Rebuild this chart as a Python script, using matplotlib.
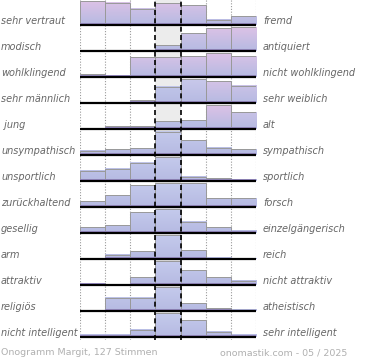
import matplotlib
matplotlib.use('Agg')
import matplotlib.pyplot as plt
import numpy as np
from matplotlib.patches import Rectangle
from matplotlib.colors import to_rgb

# Gegensatzpaare (links / rechts)
left_labels = ['sehr vertraut', 'modisch', 'wohlklingend', 'sehr männlich', ' jung',
               'unsympathisch', 'unsportlich', 'zurückhaltend', 'gesellig', 'arm',
               'attraktiv', 'religiös', 'nicht intelligent']
right_labels = ['fremd', 'antiquiert', 'nicht wohlklingend', 'sehr weiblich', 'alt',
                'sympathisch', 'sportlich', 'forsch', 'einzelgängerisch', 'reich',
                'nicht attraktiv', 'atheistisch', 'sehr intelligent']

# Stimmen je Stufe (7 Stufen, relativ zum Maximum in %)
votes = [
    [100, 92, 67, 90, 82, 21, 36],
    [4, 4, 4, 25, 74, 95, 100],
    [12, 8, 82, 82, 86, 100, 86],
    [0, 0, 12, 67, 100, 90, 71],
    [0, 12, 12, 33, 37, 100, 70],
    [18, 24, 28, 97, 62, 30, 25],
    [42, 51, 76, 100, 17, 12, 8],
    [24, 48, 90, 100, 100, 37, 37],
    [24, 32, 87, 100, 46, 24, 10],
    [0, 18, 32, 100, 37, 6, 4],
    [7, 0, 32, 100, 62, 32, 18],
    [0, 55, 55, 100, 32, 11, 6],
    [10, 10, 30, 100, 70, 21, 10],
]
# Anteil rosa Faerbung je Balken (0 = blau, 1 = rosa)
pink = [
    [1, 1, 0.8, 1, 0.9, 0.6, 0.6],
    [0, 0, 0, 0.2, 0.6, 1, 1],
    [0, 0, 0.9, 0.9, 0.9, 1, 0.9],
    [0, 0, 0, 0, 0.2, 0.8, 0.6],
    [0, 0, 0, 0, 0, 1, 0.5],
] + [[0] * 7 for _ in range(8)]

footer_left = 'Onogramm Margit, 127 Stimmen'
footer_right = 'onomastik.com - 05 / 2025'

W, H = 370, 360
fig = plt.figure(figsize=(W / 100, H / 100), dpi=100)
ax = fig.add_axes([80 / W, 20 / H, 176 / W, 340 / H])
ax.set_xlim(0, 7)
ax.set_ylim(0, 340)
ax.axis('off')

c_pink = np.array(to_rgb('#dcc2e6'))
c_blue = np.array(to_rgb('#c4caec'))
c_low = np.array(to_rgb('#b6bae2'))
row_h = 26
bar_max = 24

# gepunktete Linien hinten
for x in [0, 1, 2, 5, 6, 7]:
    ax.plot([x, x], [0, 340], color='#999999', lw=0.8, ls=(0, (1, 1.5)), zorder=1)

for i in range(len(votes)):
    base = 340 - (25 + row_h * i)
    # grauer Hintergrund in der Mitte
    ax.add_patch(Rectangle((3, base), 1, 25, color='#ececec', lw=0, zorder=1.5))
    for j, v in enumerate(votes[i]):
        h = v / 100 * bar_max
        if h <= 0:
            continue
        top = c_blue * (1 - pink[i][j]) + c_pink * pink[i][j]
        f = np.linspace(0, h / bar_max, 40)[:, None]
        img = (c_low * (1 - f) + top * f)[:, None, :]
        ax.imshow(img, extent=[j, j + 1, base, base + h], origin='lower',
                  aspect='auto', interpolation='bilinear', zorder=2)
        ax.add_patch(Rectangle((j, base), 1, h, fill=False, ec='#999999', lw=0.7, zorder=2.5))
        ax.add_patch(Rectangle((j, base), 1, min(2, h), color='#9a8ec6', lw=0, zorder=2.6))
    ax.plot([0, 7], [base, base], color='black', lw=1.6, zorder=4, solid_capstyle='butt')
    # Beschriftungen
    yb = 1 - (24 + row_h * i) / H
    fig.text(1 / W, yb, left_labels[i], fontsize=7.05, style='italic', color='#666666', va='baseline')
    fig.text(263 / W, yb, right_labels[i], fontsize=7.05, style='italic', color='#666666', va='baseline')

# gestrichelte Linien der Mitte
for x in [3, 4]:
    ax.plot([x, x], [0, 340], color='black', lw=1.2, ls=(0, (3, 2)), zorder=3)

fig.text(1 / W, 1 - 355 / H, footer_left, fontsize=6.8, color='#b0b0b0', va='baseline')
fig.text(347 / W, 1 - 355 / H, footer_right, fontsize=6.8, color='#b0b0b0', va='baseline', ha='right')

fig.savefig('out.png', dpi=100)
